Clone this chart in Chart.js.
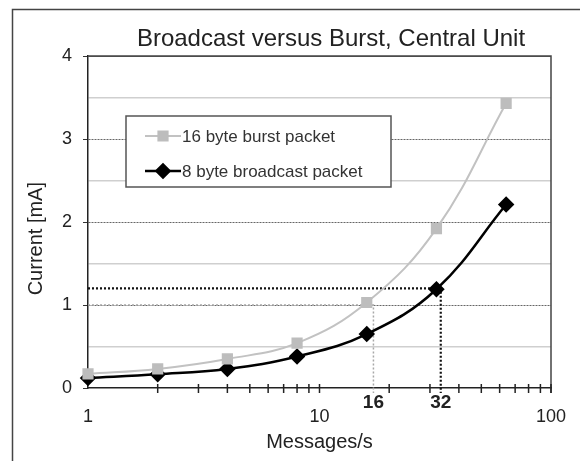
<!DOCTYPE html>
<html>
<head>
<meta charset="utf-8">
<script src="https://cdn.jsdelivr.net/npm/chart.js@4/dist/chart.umd.min.js"></script>
<style>
  html, body { margin: 0; padding: 0; background: #fff; }
  #wrap { width: 580px; height: 461px; }
</style>
</head>
<body>
<div id="wrap"><canvas id="chart" width="580" height="461"></canvas></div>
<script>
const messages = [1, 2, 4, 8, 16, 32, 64];
const burst = [0.17, 0.23, 0.35, 0.54, 1.03, 1.92, 3.43];
const broadcast = [0.12, 0.165, 0.23, 0.38, 0.65, 1.19, 2.21];
// hand drawn guide lines and their bold labels
const guideX = [17.1, 33.4];
const guideY = [1.0, 1.2];
const guideLabels = ['16', '32'];
const guideColors = ['#a8a8a8', '#111'];
const xMinorTicks = [2, 3, 4, 5, 6, 7, 8, 9, 10, 20, 30, 40, 50, 60, 70, 80, 90, 100];
const xLabels = [1, 10, 100];
const yMin = 0, yMax = 4;

const FONT = "'Liberation Sans', Arial, sans-serif";

function toPoints(ys) {
    return messages.map((x, i) => ({ x: x, y: ys[i] }));
}

const overlay = {
    id: 'overlay',
    beforeDatasetsDraw(chart) {
        const { ctx, chartArea: ca, scales: { x, y } } = chart;
        ctx.save();
        guideX.forEach((gx, i) => {
            const px = x.getPixelForValue(gx);
            const py = y.getPixelForValue(guideY[i]);
            ctx.strokeStyle = guideColors[i];
            ctx.lineWidth = i === 0 ? 1.5 : 2.2;
            ctx.setLineDash([2, 2]);
            ctx.beginPath();
            ctx.moveTo(ca.left, py);
            ctx.lineTo(px, py);
            ctx.lineTo(px, ca.bottom + 5);
            ctx.stroke();
        });
        ctx.restore();
    },
    afterDatasetsDraw(chart) {
        const { ctx, chartArea: ca, scales: { x } } = chart;
        ctx.save();
        // plot frame (top / right)
        ctx.strokeStyle = '#444';
        ctx.lineWidth = 1.5;
        ctx.beginPath();
        ctx.moveTo(ca.left, ca.top);
        ctx.lineTo(ca.right, ca.top);
        ctx.lineTo(ca.right, ca.bottom + 5);
        ctx.stroke();
        // x tick marks crossing the axis
        ctx.strokeStyle = '#222';
        xMinorTicks.forEach(v => {
            const px = x.getPixelForValue(v);
            ctx.beginPath();
            ctx.moveTo(px, ca.bottom - 4);
            ctx.lineTo(px, ca.bottom + 5);
            ctx.stroke();
        });
        // legend
        const lx = ca.left + 38, ly = ca.top + 60, lw = 265, lh = 71;
        ctx.fillStyle = '#fff';
        ctx.fillRect(lx, ly, lw, lh);
        ctx.strokeStyle = '#555';
        ctx.lineWidth = 1.5;
        ctx.strokeRect(lx, ly, lw, lh);
        chart.data.datasets.forEach((ds, i) => {
            const cy = ly + 20 + i * 35;
            ctx.strokeStyle = ds.borderColor;
            ctx.lineWidth = ds.borderWidth;
            ctx.beginPath();
            ctx.moveTo(lx + 19, cy);
            ctx.lineTo(lx + 55, cy);
            ctx.stroke();
            ctx.fillStyle = ds.pointBackgroundColor;
            ctx.strokeStyle = ds.pointBorderColor;
            Chart.helpers.drawPoint(ctx, {
                pointStyle: ds.pointStyle,
                radius: ds.pointRadius,
                borderWidth: 1,
            }, lx + 37, cy);
            ctx.fillStyle = '#333';
            ctx.font = '17px ' + FONT;
            ctx.textBaseline = 'middle';
            ctx.textAlign = 'left';
            ctx.fillText(ds.label, lx + 56, cy + 1);
        });
        ctx.restore();
    },
    afterDraw(chart) {
        const { ctx } = chart;
        ctx.save();
        ctx.fillStyle = '#222';
        ctx.font = '24px ' + FONT;
        ctx.textAlign = 'center';
        ctx.textBaseline = 'alphabetic';
        ctx.fillText('Broadcast versus Burst, Central Unit', 331, 46);
        ctx.strokeStyle = '#444';
        ctx.lineWidth = 1.5;
        ctx.strokeRect(12.5, 9.5, 600, 500);
        ctx.restore();
    }
};

new Chart(document.getElementById('chart'), {
    type: 'line',
    data: {
        datasets: [
            {
                label: '16 byte burst packet',
                data: toPoints(burst),
                borderColor: '#c2c2c2',
                pointBackgroundColor: '#bdbdbd',
                pointBorderColor: '#bdbdbd',
                borderWidth: 2,
                pointStyle: 'rect',
                pointRadius: 6.5,
                tension: 0.4,
                clip: false,
            },
            {
                label: '8 byte broadcast packet',
                data: toPoints(broadcast),
                borderColor: '#000',
                pointBackgroundColor: '#000',
                pointBorderColor: '#000',
                borderWidth: 2.5,
                pointStyle: 'rectRot',
                pointRadius: 6.5,
                tension: 0.4,
                clip: false,
            },
        ]
    },
    options: {
        responsive: false,
        animation: false,
        layout: { padding: { left: 14, right: 29, top: 56, bottom: 0 } },
        plugins: {
            legend: { display: false },
            title: { display: false },
            tooltip: { enabled: false },
        },
        scales: {
            x: {
                type: 'logarithmic',
                min: 1,
                max: 100,
                afterBuildTicks: scale => {
                    scale.ticks = xLabels.concat(guideX).map(v => ({ value: v }));
                },
                afterFit: scale => { scale.height = 73; },
                grid: { display: false, drawTicks: false },
                border: { display: true, color: '#222', width: 1.5 },
                ticks: {
                    autoSkip: false,
                    maxRotation: 0,
                    padding: 3.6,
                    color: '#222',
                    callback: v => {
                        const g = guideX.indexOf(v);
                        if (g >= 0) return guideLabels[g];
                        return ['', String(v)];
                    },
                    font: ctx => {
                        const v = ctx.tick && ctx.tick.value;
                        if (guideX.includes(v)) {
                            return { family: FONT, size: 19, weight: 'bold', lineHeight: 1.2 };
                        }
                        return { family: FONT, size: 18, lineHeight: 0.94 };
                    },
                },
                title: {
                    display: true,
                    text: 'Messages/s',
                    color: '#222',
                    font: { family: FONT, size: 20 },
                    padding: { top: 0, bottom: 7 },
                },
            },
            y: {
                min: yMin,
                max: yMax,
                afterFit: scale => { scale.width = 74; },
                ticks: {
                    stepSize: 0.5,
                    padding: 11,
                    color: '#222',
                    font: { family: FONT, size: 18 },
                    callback: v => (v % 1 === 0 ? v : ''),
                },
                grid: {
                    color: ctx => {
                        const v = ctx.tick.value;
                        if (v === yMin) return 'rgba(0,0,0,0)';
                        return v % 1 === 0 ? '#666' : '#cfcfcf';
                    },
                    lineWidth: ctx => (ctx.tick.value % 1 === 0 ? 1 : 1.5),
                    tickColor: ctx => (ctx.tick.value % 1 === 0 ? '#333' : 'rgba(0,0,0,0)'),
                    tickLength: 5,
                },
                border: {
                    display: true,
                    color: '#222',
                    width: 1.5,
                    dash: ctx => {
                        const v = ctx.tick ? ctx.tick.value : null;
                        return (v !== null && v % 1 === 0 && v > yMin && v < yMax) ? [2, 1] : [];
                    },
                },
                title: {
                    display: true,
                    text: 'Current [mA]      ',
                    color: '#222',
                    font: { family: FONT, size: 20 },
                    padding: { top: 10, bottom: 0 },
                },
            },
        },
    },
    plugins: [overlay],
});
</script>
</body>
</html>
